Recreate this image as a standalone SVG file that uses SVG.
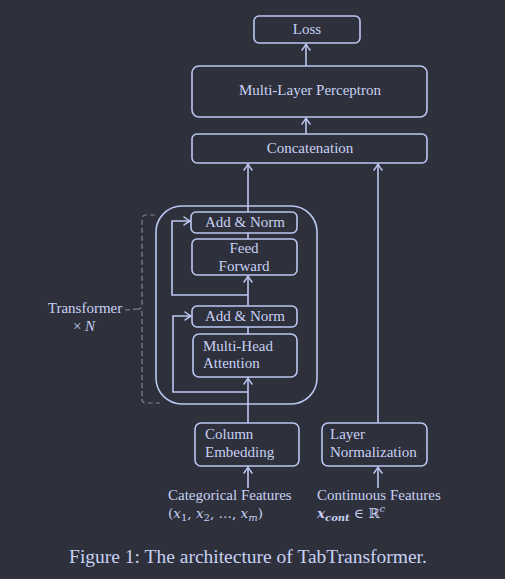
<svg xmlns="http://www.w3.org/2000/svg" width="505" height="579" viewBox="0 0 505 579">
<defs>
<marker id="ah" viewBox="-6 -5 8 10" markerWidth="8" markerHeight="10" refX="1" refY="0" orient="auto" markerUnits="userSpaceOnUse">
<path d="M-5,-4 Q-1,-1 1,0 Q-1,1 -5,4" fill="none" stroke="#bcc6f2" stroke-width="1.5" stroke-linecap="round"/>
</marker>
<style>
.bg{fill:#2e313b}
.box{fill:none;stroke:#bcc6f2;stroke-width:1.6}
.ln{fill:none;stroke:#bcc6f2;stroke-width:1.6}
.arr{marker-end:url(#ah)}
.t{font-family:"Liberation Serif","Times New Roman",serif;font-size:15px;fill:#c8d0f4}
.c{text-anchor:middle}
.m{font-family:"DejaVu Serif","Liberation Serif",serif;font-size:13.5px}
.sub{font-size:10px}
.cap{font-size:19.5px}
.dash{fill:none;stroke:#7e8496;stroke-width:1.2;stroke-dasharray:5 3}
</style>
</defs>
<rect class="bg" x="0" y="0" width="505" height="579"/>

<g id="connectors">
<line class="ln arr" x1="306" y1="66" x2="306" y2="44"/>
<line class="ln arr" x1="306" y1="134" x2="306" y2="118"/>
<line class="ln arr" x1="248" y1="212" x2="248" y2="164"/>
<line class="ln arr" x1="378" y1="423" x2="378" y2="164"/>
<line class="ln arr" x1="248" y1="423" x2="248" y2="378"/>
<line class="ln" x1="248" y1="334" x2="248" y2="327"/>
<line class="ln arr" x1="248" y1="306" x2="248" y2="276"/>
<line class="ln" x1="248" y1="239" x2="248" y2="233"/>
<path class="ln arr" d="M248,392 H173 V316 H191"/>
<path class="ln arr" d="M248,295 H172 V221 H190"/>
<line class="ln arr" x1="248" y1="488" x2="248" y2="467"/>
<line class="ln arr" x1="378" y1="488" x2="378" y2="467"/>
</g>

<g id="transformer-block">
<rect class="box" x="156" y="206" width="161" height="198" rx="26"/>
</g>

<g id="brace">
<path class="dash" d="M155,215 H146 Q142,215 142,219 V305 Q142,309 138,309 Q142,309 142,313 V399 Q142,403 146,403 H160"/>
<line class="dash" x1="125" y1="310" x2="138" y2="309"/>
<text class="t c" x="85" y="313">Transformer</text>
<text class="t c" x="84" y="331">× <tspan font-style="italic">N</tspan></text>
</g>

<g id="loss">
<rect class="box" x="254" y="16" width="106" height="27" rx="5"/>
<text class="t c" x="307" y="34">Loss</text>
</g>
<g id="mlp">
<rect class="box" x="192" y="66" width="235" height="51" rx="7"/>
<text class="t c" x="310" y="95">Multi-Layer Perceptron</text>
</g>
<g id="concat">
<rect class="box" x="192" y="134" width="235" height="29" rx="5"/>
<text class="t c" x="310" y="153">Concatenation</text>
</g>
<g id="addnorm2">
<rect class="box" x="191" y="212" width="106" height="21" rx="5"/>
<text class="t c" x="245" y="227">Add &amp; Norm</text>
</g>
<g id="ff">
<rect class="box" x="192" y="239" width="105" height="36" rx="5"/>
<text class="t c" x="244" y="253">Feed</text>
<text class="t c" x="244" y="271">Forward</text>
</g>
<g id="addnorm1">
<rect class="box" x="192" y="306" width="105" height="21" rx="5"/>
<text class="t c" x="245" y="321">Add &amp; Norm</text>
</g>
<g id="mha">
<rect class="box" x="193" y="334" width="104" height="43" rx="6"/>
<text class="t" x="203" y="351">Multi-Head</text>
<text class="t" x="203" y="368">Attention</text>
</g>
<g id="colemb">
<rect class="box" x="195" y="423" width="104" height="43" rx="6"/>
<text class="t" x="205" y="439">Column</text>
<text class="t" x="205" y="457">Embedding</text>
</g>
<g id="layernorm">
<rect class="box" x="322" y="423" width="105" height="43" rx="6"/>
<text class="t" x="330" y="439">Layer</text>
<text class="t" x="330" y="457">Normalization</text>
</g>
<g id="cat-input">
<text class="t" x="168" y="500">Categorical Features</text>
<text class="t m" x="168" y="518">(<tspan font-style="italic">x</tspan><tspan class="sub" dy="3">1</tspan><tspan dy="-3">, </tspan><tspan font-style="italic">x</tspan><tspan class="sub" dy="3">2</tspan><tspan dy="-3">, …, </tspan><tspan font-style="italic">x</tspan><tspan class="sub" dy="3" font-style="italic">m</tspan><tspan dy="-3">)</tspan></text>
</g>
<g id="cont-input">
<text class="t" x="317" y="500">Continuous Features</text>
<text class="t m" x="317" y="518"><tspan font-style="italic" font-weight="bold">x</tspan><tspan class="sub" dy="3" font-style="italic" font-weight="bold">cont</tspan><tspan dy="-3"> ∈ ℝ</tspan><tspan class="sub" dy="-6" font-style="italic">c</tspan></text>
</g>
<g id="caption">
<text class="t c cap" x="248" y="563">Figure 1: The architecture of TabTransformer.</text>
</g>
</svg>
